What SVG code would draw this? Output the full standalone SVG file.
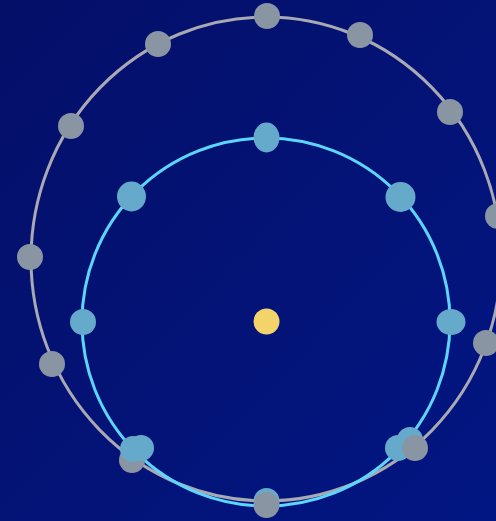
<svg xmlns="http://www.w3.org/2000/svg" width="496" height="521" viewBox="0 0 496 521">
<defs>
<linearGradient id="bg" x1="0" y1="0" x2="1" y2="1">
<stop offset="0" stop-color="#040f68"/>
<stop offset="1" stop-color="#021683"/>
</linearGradient>
</defs>
<style>
.ring-outer{fill:none;stroke:#a9a9b3;stroke-width:3}
.ring-inner{fill:none;stroke:#5cd6ff;stroke-width:3}
.g{fill:#8a95a3}
.c{fill:#65aacb}
.sun{fill:#f2d46a}
</style>
<rect width="496" height="521" fill="url(#bg)"/>
<g id="connectors">
<ellipse class="ring-outer" cx="266" cy="259" rx="235" ry="242"/>
<circle class="ring-inner" cx="266" cy="322" r="184"/>
</g>
<g id="center"><circle class="sun" cx="266.5" cy="321.5" r="13"/></g>
<g id="outer-nodes">
<circle class="g" cx="267" cy="16" r="13"/>
<circle class="g" cx="158" cy="44" r="13"/>
<circle class="g" cx="360" cy="35" r="13"/>
<circle class="g" cx="71" cy="126" r="13"/>
<circle class="g" cx="450" cy="112" r="13"/>
<circle class="g" cx="498" cy="216" r="13"/>
<circle class="g" cx="30" cy="257" r="13"/>
<circle class="g" cx="486" cy="343" r="13"/>
<circle class="g" cx="52" cy="364" r="13"/>
<circle class="g" cx="132" cy="460" r="13"/>
</g>
<g id="inner-nodes">
<ellipse class="c" cx="266.5" cy="137.5" rx="13" ry="15"/>
<ellipse class="c" cx="131.5" cy="196.5" rx="14.5" ry="15"/>
<ellipse class="c" cx="400.5" cy="197" rx="15" ry="15"/>
<circle class="c" cx="83" cy="322" r="13"/>
<ellipse class="c" cx="451" cy="322" rx="14.5" ry="13"/>
<circle class="c" cx="133" cy="449" r="13"/>
<circle class="c" cx="141" cy="448" r="13"/>
<circle class="c" cx="398" cy="448" r="13"/>
<circle class="c" cx="410" cy="440" r="13"/>
<circle class="c" cx="266.5" cy="501" r="13"/>
</g>
<g id="outer-nodes-front">
<circle class="g" cx="415" cy="448" r="13"/>
<circle class="g" cx="266.5" cy="505" r="13"/>
</g>
</svg>
